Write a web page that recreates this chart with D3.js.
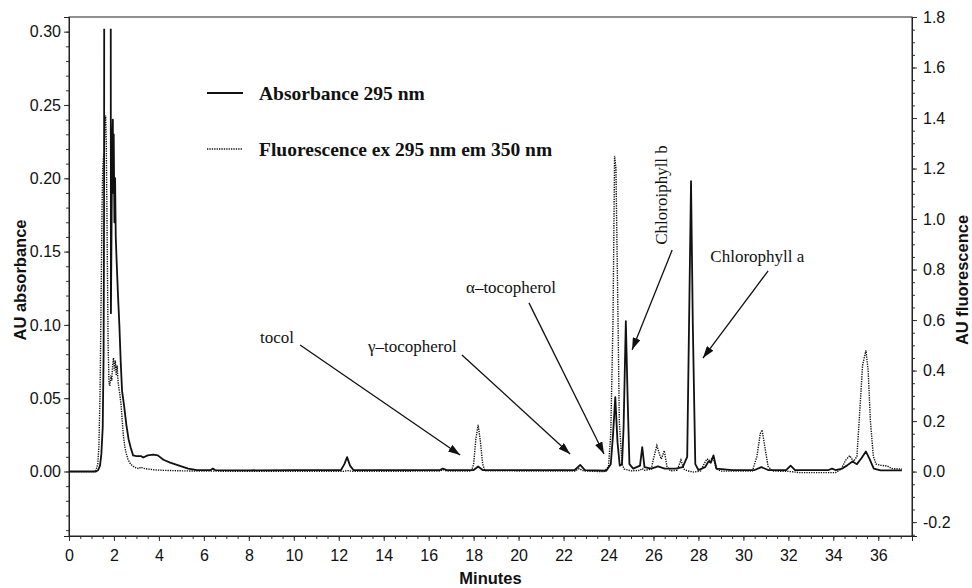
<!DOCTYPE html>
<html>
<head>
<meta charset="utf-8">
<script src="https://cdn.jsdelivr.net/npm/d3@7"></script>
<style>
  html, body { margin: 0; padding: 0; background: #fff; }
  svg { display: block; }
  .tick text { font-family: "Liberation Sans", Arial, sans-serif; font-size: 16px; fill: #111; }
  .axis-title { font-family: "Liberation Sans", Arial, sans-serif; font-weight: bold; font-size: 16.5px; fill: #111; }
  .legend text { font-family: "Liberation Serif", "Times New Roman", serif; font-weight: bold; font-size: 19.5px; fill: #111; }
  .note { font-family: "Liberation Serif", "Times New Roman", serif; font-size: 17px; fill: #111; }
</style>
</head>
<body>
<svg id="chart" width="972" height="588"></svg>
<script>
"use strict";

// Absorbance 295 nm trace: [minutes, AU absorbance] (left axis)
const absorbance = [
  [0, 0], [1.2, 0], [1.3, 0.001], [1.38, 0.004], [1.44, 0.012], [1.5, 0.03], [1.54, 0.08],
  [1.56, 0.18], [1.575, 0.5], [1.85, 0.5], [1.865, 0.108], [1.89, 0.16], [1.92, 0.22],
  [1.95, 0.24], [1.97, 0.19], [1.99, 0.23], [2.02, 0.17], [2.05, 0.2], [2.08, 0.16],
  [2.12, 0.143], [2.18, 0.12], [2.24, 0.1], [2.3, 0.075], [2.36, 0.055], [2.45, 0.045],
  [2.55, 0.032], [2.65, 0.022], [2.75, 0.016], [2.85, 0.011], [3.0, 0.0105], [3.2, 0.0105],
  [3.3, 0.0095], [3.5, 0.011], [3.75, 0.0115], [3.95, 0.011], [4.2, 0.008], [4.5, 0.006],
  [4.9, 0.004], [5.3, 0.002], [5.7, 0.001], [6.3, 0.001], [6.4, 0.002], [6.5, 0.001],
  [8, 0.0008], [10, 0.001], [12.1, 0.001], [12.25, 0.005], [12.37, 0.0098], [12.5, 0.004],
  [12.65, 0.001], [16.5, 0.001], [16.63, 0.002], [16.8, 0.001], [18.0, 0.001], [18.2, 0.0034],
  [18.4, 0.001], [22.5, 0.001], [22.74, 0.0045], [22.95, 0.001], [23.9, 0.0005], [24.1, 0.005],
  [24.2, 0.025], [24.3, 0.0507], [24.4, 0.02], [24.5, 0.004], [24.6, 0.005], [24.67, 0.03],
  [24.77, 0.1025], [24.85, 0.05], [24.93, 0.005], [25.1, 0.002], [25.4, 0.004], [25.5, 0.0166],
  [25.6, 0.003], [25.9, 0.002], [26.2, 0.0035], [26.5, 0.002], [27.0, 0.002], [27.3, 0.003],
  [27.5, 0.01], [27.6, 0.12], [27.67, 0.198], [27.75, 0.1], [27.86, 0.005], [28.0, 0.001],
  [28.3, 0.003], [28.45, 0.007], [28.55, 0.006], [28.67, 0.011], [28.8, 0.002], [29.5, 0.001],
  [30.5, 0.001], [30.8, 0.003], [31.1, 0.001], [31.9, 0.001], [32.1, 0.004], [32.3, 0.001],
  [33.8, 0.001], [33.94, 0.002], [34.1, 0.001], [34.4, 0.002], [34.6, 0.004], [34.85, 0.0068],
  [35.05, 0.005], [35.25, 0.009], [35.45, 0.0136], [35.6, 0.009], [35.8, 0.002], [36.1, 0.0008],
  [37.05, 0.0008]
];

// Fluorescence ex 295 / em 350 trace: [minutes, AU fluorescence] (right axis)
const fluorescence = [
  [0, 0], [1.1, 0], [1.2, 0.005], [1.28, 0.03], [1.33, 0.1], [1.38, 0.3], [1.43, 0.7],
  [1.47, 1.05], [1.5, 1.2], [1.53, 1.24], [1.57, 1.26], [1.6, 1.38], [1.63, 1.41], [1.66, 1.3],
  [1.7, 0.9], [1.74, 0.5], [1.78, 0.35], [1.82, 0.34], [1.86, 0.38], [1.9, 0.36], [1.94, 0.42],
  [1.98, 0.45], [2.02, 0.4], [2.06, 0.44], [2.1, 0.38], [2.14, 0.42], [2.18, 0.36], [2.22, 0.33],
  [2.27, 0.3], [2.32, 0.26], [2.37, 0.2], [2.42, 0.14], [2.48, 0.1], [2.55, 0.07], [2.62, 0.05],
  [2.7, 0.035], [2.8, 0.025], [2.9, 0.018], [3.0, 0.014], [3.1, 0.012], [3.2, 0.018], [3.3, 0.013],
  [3.5, 0.01], [3.8, 0.007], [4.2, 0.005], [5, 0.003], [6, 0.002], [8, 0.001], [10, 0.001],
  [12.2, 0.001], [12.4, 0.004], [12.6, 0.001], [16.5, 0.002], [16.65, 0.008], [16.8, 0.002],
  [17.9, 0.002], [18.0, 0.03], [18.1, 0.13], [18.2, 0.185], [18.3, 0.12], [18.4, 0.03],
  [18.5, 0.003], [22.5, 0.002], [22.7, 0.012], [22.9, 0.002], [23.8, 0.0], [24.0, 0.02],
  [24.1, 0.15], [24.2, 0.6], [24.27, 1.25], [24.33, 1.2], [24.4, 0.75], [24.48, 0.2],
  [24.6, 0.03], [24.7, 0.01], [25.0, 0.003], [25.4, 0.005], [25.5, 0.012], [25.6, 0.005],
  [25.9, 0.01], [26.0, 0.05], [26.15, 0.103], [26.3, 0.06], [26.35, 0.05], [26.48, 0.083],
  [26.6, 0.02], [26.75, 0.003], [27.05, 0.005], [27.22, 0.046], [27.35, 0.01], [27.5, 0.003],
  [27.8, -0.002], [28.1, 0.003], [28.25, 0.03], [28.38, 0.05], [28.5, 0.045], [28.65, 0.055],
  [28.8, 0.01], [29.0, 0.002], [30.4, 0.002], [30.6, 0.06], [30.75, 0.15], [30.83, 0.165],
  [30.95, 0.1], [31.1, 0.02], [31.3, 0.002], [32.0, 0.001], [32.5, -0.004], [34.1, -0.004],
  [34.35, 0.01], [34.55, 0.045], [34.73, 0.063], [34.9, 0.04], [35.05, 0.06], [35.15, 0.2],
  [35.3, 0.42], [35.45, 0.48], [35.55, 0.4], [35.65, 0.2], [35.78, 0.06], [35.9, 0.03],
  [36.1, 0.025], [36.4, 0.022], [36.6, 0.012], [37.05, 0.01]
];

// Axis ticks
const minuteTicks = d3.range(0, 37, 2);
const absorbanceTicks = [0, 0.05, 0.10, 0.15, 0.20, 0.25, 0.30];
const fluorescenceTicks = [-0.2, 0, 0.2, 0.4, 0.6, 0.8, 1.0, 1.2, 1.4, 1.6, 1.8];

// Peak labels: text anchor and arrow, in minutes / AU absorbance
const peakNotes = [
  { label: "tocol", tx: 8.5, ty: 0.0877, x1: 10.28, y1: 0.0863, x2: 17.4, y2: 0.0113 },
  { label: "\u03b3\u2013tocopherol", tx: 13.3, ty: 0.0815, x1: 17.48, y1: 0.0795, x2: 22.29, y2: 0.0119 },
  { label: "\u03b1\u2013tocopherol", tx: 17.66, ty: 0.1218, x1: 20.46, y1: 0.115, x2: 23.8, y2: 0.0119 },
  { label: "Chloroiphyll  b", tx: 26.6, ty: 0.1886, rotate: true, x1: 26.83, y1: 0.151, x2: 25.05, y2: 0.083 },
  { label: "Chlorophyll a", tx: 28.53, ty: 0.143, x1: 31.1, y1: 0.1368, x2: 28.2, y2: 0.0774 }
];

const margin = { top: 17, right: 60, bottom: 52, left: 69 };
const width = 972 - margin.left - margin.right;
const height = 588 - margin.top - margin.bottom;

const svg = d3.select("#chart");

const x = d3.scaleLinear().domain([0, 37.5]).range([margin.left, margin.left + width]);
const yL = d3.scaleLinear().domain([-0.044, 0.31]).range([margin.top + height, margin.top]);
const yR = d3.scaleLinear().domain([-0.255, 1.8]).range([margin.top + height, margin.top]);

// clip: absorbance detector saturates just above 0.30
svg.append("clipPath").attr("id", "plotclip")
  .append("rect")
  .attr("x", margin.left).attr("y", yL(0.302))
  .attr("width", width).attr("height", margin.top + height - yL(0.302));

svg.append("defs").append("marker")
  .attr("id", "arrow")
  .attr("markerUnits", "userSpaceOnUse")
  .attr("markerWidth", 12).attr("markerHeight", 8)
  .attr("refX", 12).attr("refY", 4)
  .attr("orient", "auto")
  .append("path").attr("d", "M0,0 L12,4 L0,8 Z").attr("fill", "#111");

// minor ticks first, majors on top
svg.append("g")
  .attr("transform", "translate(0," + (margin.top + height) + ")")
  .call(d3.axisBottom(x).tickValues(d3.range(0, 37.6, 0.5)).tickSize(3).tickFormat(""))
  .call(g => g.select(".domain").remove());
svg.append("g")
  .attr("transform", "translate(" + margin.left + ",0)")
  .call(d3.axisLeft(yL).tickValues(d3.range(-0.04, 0.311, 0.01)).tickSize(3).tickFormat(""))
  .call(g => g.select(".domain").remove());
svg.append("g")
  .attr("transform", "translate(" + (margin.left + width) + ",0)")
  .call(d3.axisRight(yR).tickValues(d3.range(-0.25, 1.801, 0.05)).tickSize(3).tickFormat(""))
  .call(g => g.select(".domain").remove());

const xAxis = svg.append("g")
  .attr("transform", "translate(0," + (margin.top + height) + ")")
  .call(d3.axisBottom(x).tickValues(minuteTicks).tickSize(5).tickPadding(9).tickFormat(d3.format("d")));

const yAxisL = svg.append("g")
  .attr("transform", "translate(" + margin.left + ",0)")
  .call(d3.axisLeft(yL).tickValues(absorbanceTicks).tickSize(5).tickPadding(3).tickFormat(d => d.toFixed(2)));

const yAxisR = svg.append("g")
  .attr("transform", "translate(" + (margin.left + width) + ",0)")
  .call(d3.axisRight(yR).tickValues(fluorescenceTicks).tickSize(5).tickPadding(6).tickFormat(d => d.toFixed(1).replace("\u2212", "-")));

svg.selectAll(".domain").attr("stroke", "#222");
svg.selectAll(".tick line").attr("stroke", "#333");

// frame
svg.append("rect")
  .attr("x", margin.left).attr("y", margin.top)
  .attr("width", width).attr("height", height)
  .attr("fill", "none").attr("stroke", "#222").attr("stroke-width", 1);

// traces
const plot = svg.append("g").attr("clip-path", "url(#plotclip)");

plot.append("path")
  .datum(fluorescence)
  .attr("fill", "none")
  .attr("stroke", "#111")
  .attr("stroke-width", 1.4)
  .attr("stroke-dasharray", "1.3,1.1")
  .attr("d", d3.line().x(d => x(d[0])).y(d => yR(d[1])));

plot.append("path")
  .datum(absorbance)
  .attr("fill", "none")
  .attr("stroke", "#111")
  .attr("stroke-width", 1.8)
  .attr("stroke-linejoin", "round")
  .attr("d", d3.line().x(d => x(d[0])).y(d => yL(d[1])));

// axis titles
svg.append("text").attr("class", "axis-title")
  .attr("text-anchor", "middle")
  .attr("transform", "translate(26,280) rotate(-90)")
  .text("AU absorbance");

svg.append("text").attr("class", "axis-title")
  .attr("text-anchor", "middle")
  .attr("transform", "translate(968,280) rotate(-90)")
  .text("AU fluorescence");

svg.append("text").attr("class", "axis-title")
  .attr("text-anchor", "middle")
  .attr("x", margin.left + width / 2).attr("y", 584)
  .text("Minutes");

// legend
const legend = svg.append("g").attr("class", "legend");
legend.append("line").attr("x1", 207).attr("x2", 243).attr("y1", 93).attr("y2", 93)
  .attr("stroke", "#111").attr("stroke-width", 1.8);
legend.append("text").attr("x", 259).attr("y", 99.5).text("Absorbance 295 nm");
legend.append("line").attr("x1", 207).attr("x2", 243).attr("y1", 149).attr("y2", 149)
  .attr("stroke", "#111").attr("stroke-width", 1.4).attr("stroke-dasharray", "1.3,1.1");
legend.append("text").attr("x", 259).attr("y", 155.5).text("Fluorescence ex 295 nm em 350 nm");

// peak annotations
const notes = svg.append("g");
peakNotes.forEach(n => {
  notes.append("line")
    .attr("x1", x(n.x1)).attr("y1", yL(n.y1))
    .attr("x2", x(n.x2)).attr("y2", yL(n.y2))
    .attr("stroke", "#111").attr("stroke-width", 1.3)
    .attr("marker-end", "url(#arrow)");
  const t = notes.append("text").attr("class", "note").text(n.label);
  if (n.rotate) {
    t.attr("text-anchor", "middle")
      .attr("transform", "translate(" + x(n.tx) + "," + yL(n.ty) + ") rotate(-90)");
  } else {
    t.attr("x", x(n.tx)).attr("y", yL(n.ty));
  }
});
</script>
</body>
</html>
